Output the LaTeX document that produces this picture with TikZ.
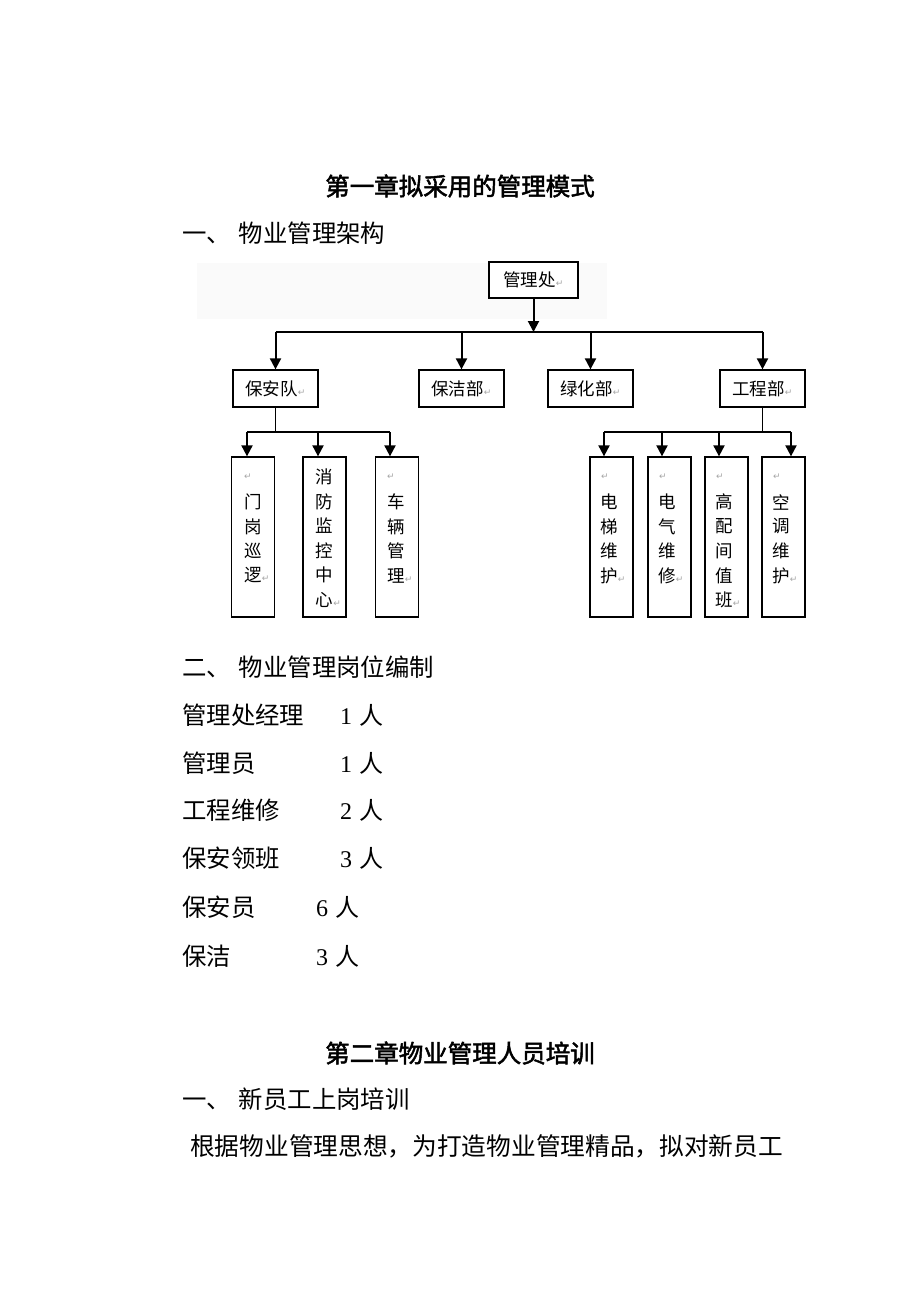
\documentclass[tikz,border=0pt]{standalone}
\usepackage{fontspec}
\setmainfont{Liberation Serif}
\newfontfamily\cjk{Noto Sans CJK SC}
\newfontfamily\cjkb{Noto Sans CJK SC}[FakeBold=2]
\newfontfamily\dv{DejaVu Sans}
\usetikzlibrary{arrows.meta}
\newcommand\ret{{\dv\fontsize{9}{9}\selectfont\color{gray!70}↵}}
\newcommand\vcol[4]{\foreach \c [count=\i from 0] in {#4} {\node[ch] (#1\i) at (#2,#3+24.5*\i) {\c};}}
\begin{document}
\begin{tikzpicture}[x=1pt,y=-1pt,
 body/.style={font=\cjk\fontsize{24.4}{24.4}\selectfont, inner sep=0pt, anchor=west},
 num/.style={font=\fontsize{24}{24}\selectfont, inner sep=0pt, anchor=west},
 ttl/.style={font=\cjkb\fontsize{24.5}{24.5}\selectfont, inner sep=0pt},
 obox/.style={draw, line width=1.3pt, minimum height=37pt, minimum width=85pt, inner sep=0pt, font=\cjk\fontsize{17.5}{17.5}\selectfont},
 tall/.style={draw, line width=1.3pt, minimum width=43pt, minimum height=160pt, inner sep=0pt},
 ch/.style={font=\cjk\fontsize{17.5}{17.5}\selectfont, inner sep=0pt},
 rt/.style={inner sep=0pt},
 ln/.style={line width=1.4pt},
 arr/.style={line width=2pt, -{Triangle[width=11pt,length=11pt]}},
]
\fill[white] (0,0) rectangle (920,1302);
\useasboundingbox (0,0) rectangle (920,1302);
\fill[gray!4] (197,263) rectangle (607,319);

\node[ttl] (t1) at (460,186) {第一章拟采用的管理模式};
\node[body] (s1) at (182,233) {一、\hspace{8pt}物业管理架构};

% level 1
\node[obox, minimum width=89pt, minimum height=36pt, fill=white] (top) at (533.5,280) {管理处\ret};
\coordinate (j0) at (533.5,332);
\coordinate (hL) at (275.5,332);
\coordinate (h2) at (461.5,332);
\coordinate (h3) at (590.5,332);
\coordinate (hR) at (762.5,332);
\draw[arr] (top) -- (j0);
\draw[ln] (hL) -- (hR);

% level 2
\node[obox] (bay) at (275.5,388.5) {保安队\ret};
\node[obox] (bjb) at (461.5,388.5) {保洁部\ret};
\node[obox] (lhb) at (590.5,388.5) {绿化部\ret};
\node[obox] (gcb) at (762.5,388.5) {工程部\ret};
\draw[arr] (hL) -- (bay);
\draw[arr] (h2) -- (bjb);
\draw[arr] (h3) -- (lhb);
\draw[arr] (hR) -- (gcb);

% level 3 left
\node[tall] (mg) at (253,537) {};
\node[tall] (xf) at (324.5,537) {};
\node[tall] (cl) at (397,537) {};
\coordinate (jb) at (275.5,432);
\coordinate (bL) at (247,432);
\coordinate (bM) at (318,432);
\coordinate (bR) at (390,432);
\draw[ln] (bay) -- (jb);
\draw[ln] (bL) -- (bR);
\draw[arr] (bL) -- (bL |- mg.north);
\draw[arr] (bM) -- (bM |- xf.north);
\draw[arr] (bR) -- (bR |- cl.north);

% level 3 right
\node[tall] (dt) at (611.5,537) {};
\node[tall] (dq) at (669.5,537) {};
\node[tall] (gp) at (726.5,537) {};
\node[tall] (kt) at (783.5,537) {};
\coordinate (jg) at (762.5,432);
\coordinate (gL) at (604,432);
\coordinate (g2) at (662,432);
\coordinate (g3) at (719,432);
\coordinate (gR) at (791,432);
\draw[ln] (gcb) -- (jg);
\draw[ln] (gL) -- (gR);
\draw[arr] (gL) -- (gL |- dt.north);
\draw[arr] (g2) -- (g2 |- dq.north);
\draw[arr] (g3) -- (g3 |- gp.north);
\draw[arr] (gR) -- (gR |- kt.north);

% column texts
\node[rt] (mgr) at (248,477) {\ret};
\vcol{mgc}{253}{502}{门,岗,巡,逻\rlap{\ret}}
\vcol{xfc}{324.5}{477}{消,防,监,控,中,心\rlap{\ret}}
\node[rt] (clr) at (391,477) {\ret};
\vcol{clc}{396}{502}{车,辆,管,理\rlap{\ret}}
\node[rt] (dtr) at (605,477) {\ret};
\vcol{dtc}{609}{502}{电,梯,维,护\rlap{\ret}}
\node[rt] (dqr) at (663,477) {\ret};
\vcol{dqc}{667}{502}{电,气,维,修\rlap{\ret}}
\node[rt] (gpr) at (720,477) {\ret};
\vcol{gpc}{724}{502}{高,配,间,值,班\rlap{\ret}}
\node[rt] (ktr) at (777,477) {\ret};
\vcol{ktc}{781}{502}{空,调,维,护\rlap{\ret}}

% staffing
\node[body] (s2) at (182,667) {二、\hspace{8pt}物业管理岗位编制};
\node[body] (r1) at (182,715) {管理处经理};
\node[num]  (n1) at (340,715) {1\hspace{7pt}{\cjk 人}};
\node[body] (r2) at (182,763) {管理员};
\node[num]  (n2) at (340,763) {1\hspace{7pt}{\cjk 人}};
\node[body] (r3) at (182,810) {工程维修};
\node[num]  (n3) at (340,810) {2\hspace{7pt}{\cjk 人}};
\node[body] (r4) at (182,858) {保安领班};
\node[num]  (n4) at (340,858) {3\hspace{7pt}{\cjk 人}};
\node[body] (r5) at (182,907) {保安员};
\node[num]  (n5) at (316,907) {6\hspace{7pt}{\cjk 人}};
\node[body] (r6) at (182,956) {保洁};
\node[num]  (n6) at (316,956) {3\hspace{7pt}{\cjk 人}};

% chapter 2
\node[ttl] (t2) at (460,1053) {第二章物业管理人员培训};
\node[body] (s3) at (182,1099) {一、\hspace{8pt}新员工上岗培训};
\node[body, font=\cjk\fontsize{24.7}{24.7}\selectfont] (p1) at (190,1146) {根据物业管理思想，为打造物业管理精品，拟对新员工};
\end{tikzpicture}
\end{document}
